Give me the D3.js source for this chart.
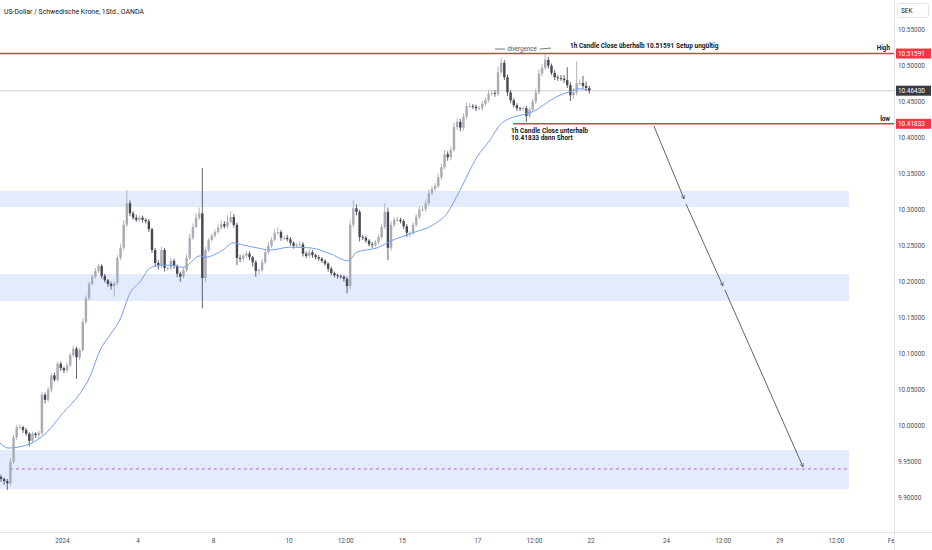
<!DOCTYPE html>
<html><head><meta charset="utf-8">
<script src="https://cdn.jsdelivr.net/npm/d3@7"></script>
<style>
html,body{margin:0;padding:0;background:#fff;}
svg{display:block;font-family:Roboto,"Liberation Sans",sans-serif;}
</style></head>
<body>
<svg id="c" width="932" height="550"></svg>
<script>
// ---- data ----
const title = "US-Dollar / Schwedische Krone, 1Std., OANDA";
const firstDay = -1.616;          // trading-day position of first 2h candle
const candleStep = 1/12;          // 2h candles
const firstOpen = 9.928;
const closes = [
9.925,9.922,9.919,9.949,9.983,9.997,9.997,9.993,9.988,9.978,
9.988,9.986,9.989,10.042,10.035,10.049,10.069,10.063,10.085,10.079,
10.076,10.083,10.097,10.106,10.094,10.104,10.143,10.176,10.196,10.206,
10.214,10.221,10.207,10.201,10.196,10.193,10.197,10.232,10.246,10.278,
10.308,10.294,10.288,10.285,10.288,10.285,10.283,10.272,10.243,10.225,
10.222,10.243,10.218,10.218,10.228,10.221,10.210,10.206,10.215,10.232,
10.260,10.275,10.288,10.294,10.204,10.243,10.257,10.263,10.268,10.274,
10.279,10.276,10.282,10.289,10.278,10.232,10.231,10.235,10.238,10.233,
10.226,10.214,10.215,10.226,10.240,10.249,10.257,10.267,10.268,10.260,
10.260,10.258,10.253,10.249,10.250,10.251,10.238,10.235,10.240,10.236,
10.233,10.231,10.228,10.224,10.217,10.211,10.208,10.207,10.206,10.203,
10.193,10.278,10.301,10.296,10.261,10.260,10.256,10.251,10.250,10.254,
10.261,10.275,10.296,10.246,10.278,10.285,10.285,10.283,10.276,10.267,
10.267,10.278,10.289,10.299,10.300,10.308,10.322,10.328,10.332,10.344,
10.358,10.376,10.372,10.382,10.414,10.421,10.413,10.428,10.443,10.443,
10.442,10.440,10.440,10.446,10.451,10.460,10.461,10.460,10.490,10.503,
10.483,10.462,10.451,10.444,10.440,10.439,10.440,10.429,10.438,10.449,
10.462,10.488,10.496,10.507,10.499,10.489,10.483,10.482,10.481,10.479,
10.472,10.458,10.462,10.475,10.475,10.471,10.468,10.4643
];
// wick lengths in thousandths of SEK
const wickUp = [
3,2,3,5,4,3,4,2,3,2,
3,2,3,4,3,4,3,4,3,3,
2,4,3,4,3,3,5,4,3,3,
4,3,2,3,2,3,2,4,5,6,
18,4,3,4,3,3,2,3,2,3,
4,5,3,2,4,3,2,3,4,5,
6,5,6,8,63,4,3,3,4,5,
5,4,10,8,4,3,4,3,4,3,
2,3,3,4,4,5,4,5,6,3,
3,4,3,2,3,4,3,3,4,3,
2,3,2,2,2,3,2,2,2,2,
3,6,11,5,3,3,3,2,3,3,
4,5,12,6,5,3,4,3,3,3,
2,4,4,5,4,5,5,4,4,5,
5,6,4,5,6,5,4,5,5,4,
3,3,3,4,4,5,4,4,8,7,
4,4,3,3,3,2,3,3,3,4,
5,6,5,9,4,3,4,3,4,5,
18,4,6,30,5,10,6,3
];
const wickDn = [
4,5,9,3,3,4,3,4,3,8,
3,4,5,3,5,3,4,3,3,4,
4,3,3,3,30,4,3,3,3,2,
3,3,4,3,4,5,15,3,3,3,
3,4,3,3,3,4,3,4,4,5,
6,4,5,4,3,4,5,7,3,3,
3,3,2,3,42,5,3,3,3,2,
3,3,3,2,4,10,5,4,3,4,
6,8,5,3,3,3,3,2,3,4,
3,3,4,4,3,3,4,3,3,4,
3,3,3,3,4,3,3,4,3,4,
10,5,4,5,6,3,3,3,4,3,
3,3,3,17,4,3,3,3,4,6,
6,3,3,3,3,4,3,3,3,3,
4,3,5,4,3,4,5,4,3,3,
3,4,3,3,3,3,3,4,3,3,
4,5,4,3,4,3,3,8,3,3,
3,3,4,3,4,3,4,4,3,4,
4,8,5,4,3,4,4,4
];
// moving average: trading day, value
const maDays = [-1.642,-1.43,-1.19,-0.66,-0.40,0.03,0.48,0.74,1.01,1.27,1.54,1.80,2.07,2.33,2.52,2.86,3.21,3.66,3.79,4.26,4.53,4.79,5.17,5.51,6.04,6.57,7.10,7.58,7.81,8.34,8.77,9.30,9.83,10.20,10.54,10.99,11.34,11.60,11.87,12.21,12.58,12.74,13.11,13.46,13.72,13.93];
const maVals = [9.975,9.968,9.969,9.979,9.990,10.017,10.044,10.067,10.104,10.125,10.147,10.183,10.199,10.218,10.221,10.222,10.219,10.235,10.233,10.243,10.253,10.250,10.246,10.243,10.247,10.246,10.238,10.228,10.240,10.246,10.257,10.267,10.278,10.294,10.326,10.372,10.396,10.417,10.426,10.431,10.438,10.444,10.456,10.463,10.467,10.465];

const tickDays = [0,2,4,6,7.5,9,11,12.5,14,16,17.5,19,20.5,22];
const tickLabels = ["2024","4","8","10","12:00","15","17","12:00","22","24","12:00","29","12:00","Feb"];
const priceTicks = [9.90,9.95,10.00,10.05,10.10,10.15,10.20,10.25,10.30,10.35,10.40,10.45,10.50,10.55];

const highLevel = 10.51591, lowLevel = 10.41833, lastPrice = 10.46430;
const zones = [[10.3028,10.325],[10.1722,10.2097],[9.9111,9.9653]];
const zoneEndDay = 20.85;
const targetLevel = 9.9389, targetStartDay = -1.38;
const lowStartDay = 11.95;
const arrowSegs = [
  [[15.68,10.4153],[16.48,10.3139]],
  [[16.53,10.3070],[17.51,10.1930]],
  [[17.56,10.1875],[19.63,9.9417]]
];

// ---- scales ----
const W = 932, H = 550, axisX = 894, axisY = 532;
const x = d3.scaleLinear().domain([0,22]).range([62,892.5]);
const y = d3.scaleLinear().domain([9.90,10.55]).range([497,29]);

const svg = d3.select("#c");
svg.append("rect").attr("width",W).attr("height",H).attr("fill","#fff");
const defs = svg.append("defs");
defs.append("clipPath").attr("id","plotclip").append("rect").attr("x",0).attr("y",0).attr("width",axisX).attr("height",axisY);
defs.append("clipPath").attr("id","xclip2").append("rect").attr("x",0).attr("y",0).attr("width",axisX).attr("height",H-axisY);
defs.append("marker").attr("id","arr").attr("viewBox","0 0 10 10").attr("refX",9).attr("refY",5)
  .attr("markerWidth",5).attr("markerHeight",5).attr("orient","auto")
  .append("path").attr("d","M1,1 L9,5 L1,9").attr("fill","none").attr("stroke","#50535e").attr("stroke-width",1.4);

const plot = svg.append("g").attr("clip-path","url(#plotclip)");

// zones
plot.selectAll("rect.zone").data(zones).join("rect").attr("class","zone")
  .attr("x",0).attr("width",x(zoneEndDay))
  .attr("y",d=>y(d[1])).attr("height",d=>y(d[0])-y(d[1]))
  .attr("fill","#e3ebfd");

// target dashed
plot.append("line").attr("x1",x(targetStartDay)).attr("x2",x(zoneEndDay))
  .attr("y1",y(targetLevel)).attr("y2",y(targetLevel))
  .attr("stroke","#a86cc8").attr("stroke-width",1).attr("stroke-dasharray","3,3");

// last price line
plot.append("line").attr("x1",0).attr("x2",axisX).attr("y1",y(lastPrice)).attr("y2",y(lastPrice))
  .attr("stroke","#c3c5cc").attr("stroke-width",0.8);

// candles
const candles = closes.map((c,i)=>{
  const o = i===0 ? firstOpen : closes[i-1];
  return {t:firstDay+i*candleStep,o,c,h:Math.max(o,c)+wickUp[i]/1000,l:Math.min(o,c)-wickDn[i]/1000};
});
const cg = plot.append("g");
const bw = 2.4;
cg.selectAll("line.w").data(candles).join("line").attr("class","w")
  .attr("x1",d=>x(d.t)).attr("x2",d=>x(d.t)).attr("y1",d=>y(d.h)).attr("y2",d=>y(d.l))
  .attr("stroke",d=>d.c>=d.o?"#a9acb4":"#4f525c").attr("stroke-width",0.9);
cg.selectAll("rect.b").data(candles).join("rect").attr("class","b")
  .attr("x",d=>x(d.t)-bw/2).attr("width",bw)
  .attr("y",d=>y(Math.max(d.o,d.c)))
  .attr("height",d=>Math.max(0.8,Math.abs(y(d.o)-y(d.c))))
  .attr("fill",d=>d.c>=d.o?"#a9acb4":"#454852");

// MA
plot.append("path").datum(maDays.map((d,i)=>[d,maVals[i]]))
  .attr("d",d3.line().x(d=>x(d[0])).y(d=>y(d[1])).curve(d3.curveMonotoneX))
  .attr("fill","none").attr("stroke","#74a0f6").attr("stroke-width",1);

// high / low lines
plot.append("line").attr("x1",0).attr("x2",axisX).attr("y1",y(highLevel)).attr("y2",y(highLevel))
  .attr("stroke","#f23645").attr("stroke-width",1.5);
plot.append("line").attr("x1",x(lowStartDay)).attr("x2",axisX).attr("y1",y(lowLevel)).attr("y2",y(lowLevel))
  .attr("stroke","#f23645").attr("stroke-width",1.5);

// arrows
plot.selectAll("line.arr").data(arrowSegs).join("line").attr("class","arr")
  .attr("x1",d=>x(d[0][0])).attr("y1",d=>y(d[0][1])).attr("x2",d=>x(d[1][0])).attr("y2",d=>y(d[1][1]))
  .attr("stroke","#50535e").attr("stroke-width",0.9).attr("marker-end","url(#arr)");

// annotations
const ann = svg.append("g").attr("fill","#131722");
ann.append("text").attr("x",x(lowStartDay)-2).attr("y",y(lowLevel)+9)
  .attr("font-size",6.5).attr("font-weight","bold").text("1h Candle Close unterhalb");
ann.append("text").attr("x",x(lowStartDay)-2).attr("y",y(lowLevel)+16)
  .attr("font-size",6.5).attr("font-weight","bold").text("10.41833 dann Short");
ann.append("text").attr("x",570).attr("y",y(highLevel)-6)
  .attr("font-size",6.5).attr("font-weight","bold").text("1h Candle Close überhalb 10.51591 Setup ungültig");
ann.append("text").attr("x",522).attr("y",y(highLevel)-2.5).attr("text-anchor","middle")
  .attr("font-size",6.3).attr("font-style","italic").attr("fill","#50535e").text("divergence");
svg.append("line").attr("x1",495).attr("x2",505).attr("y1",y(highLevel)-4.5).attr("y2",y(highLevel)-4.5).attr("stroke","#50535e").attr("stroke-width",0.8);
svg.append("line").attr("x1",540).attr("x2",551).attr("y1",y(highLevel)-4.5).attr("y2",y(highLevel)-5.5).attr("stroke","#50535e").attr("stroke-width",0.8);
ann.append("text").attr("x",890).attr("y",y(highLevel)-4).attr("text-anchor","end")
  .attr("font-size",6.3).attr("font-weight","bold").text("High");
ann.append("text").attr("x",890).attr("y",y(lowLevel)-3).attr("text-anchor","end")
  .attr("font-size",6.3).attr("font-weight","bold").text("low");

// title
svg.append("text").attr("x",4).attr("y",14).attr("font-size",6.9).attr("fill","#131722").text(title);

// axes lines
svg.append("line").attr("x1",axisX+0.5).attr("x2",axisX+0.5).attr("y1",0).attr("y2",H).attr("stroke","#e0e3eb");
svg.append("line").attr("x1",0).attr("x2",W).attr("y1",axisY+0.5).attr("y2",axisY+0.5).attr("stroke","#e0e3eb");

// y axis
const yAxis = d3.axisRight(y).tickValues(priceTicks).tickFormat(d3.format(".5f")).tickSize(0).tickPadding(4);
const ya = svg.append("g").attr("transform",`translate(${axisX},0)`).call(yAxis);
ya.select(".domain").remove();
ya.selectAll("text").attr("font-size",6.4).attr("fill","#4a4d57").attr("font-family","Roboto,'Liberation Sans',sans-serif");

// x axis
const xAxis = d3.axisBottom(x).tickValues(tickDays).tickFormat((d,i)=>tickLabels[i]).tickSize(0).tickPadding(6);
const xa = svg.append("g").attr("transform",`translate(0,${axisY})`).attr("clip-path","url(#xclip2)").call(xAxis);
xa.select(".domain").remove();
xa.selectAll("text").attr("font-size",6.4).attr("fill","#4a4d57").attr("font-family","Roboto,'Liberation Sans',sans-serif");

// price label boxes
const boxes = [[highLevel,"#f23645"],[lastPrice,"#363a45"],[lowLevel,"#f23645"]];
const bg = svg.append("g");
boxes.forEach(([v,col])=>{
  bg.append("rect").attr("x",axisX+2).attr("y",y(v)-5).attr("width",35).attr("height",10).attr("fill",col);
  bg.append("text").attr("x",axisX+4).attr("y",y(v)+2.3).attr("font-size",6.4).attr("fill","#fff").text(d3.format(".5f")(v));
});

// currency box
svg.append("rect").attr("x",897.5).attr("y",3.5).attr("width",31).attr("height",14).attr("rx",2)
  .attr("fill","#fff").attr("stroke","#e0e3eb");
svg.append("text").attr("x",901).attr("y",13).attr("font-size",6.4).attr("fill","#131722").text("SEK");
</script>
</body></html>
